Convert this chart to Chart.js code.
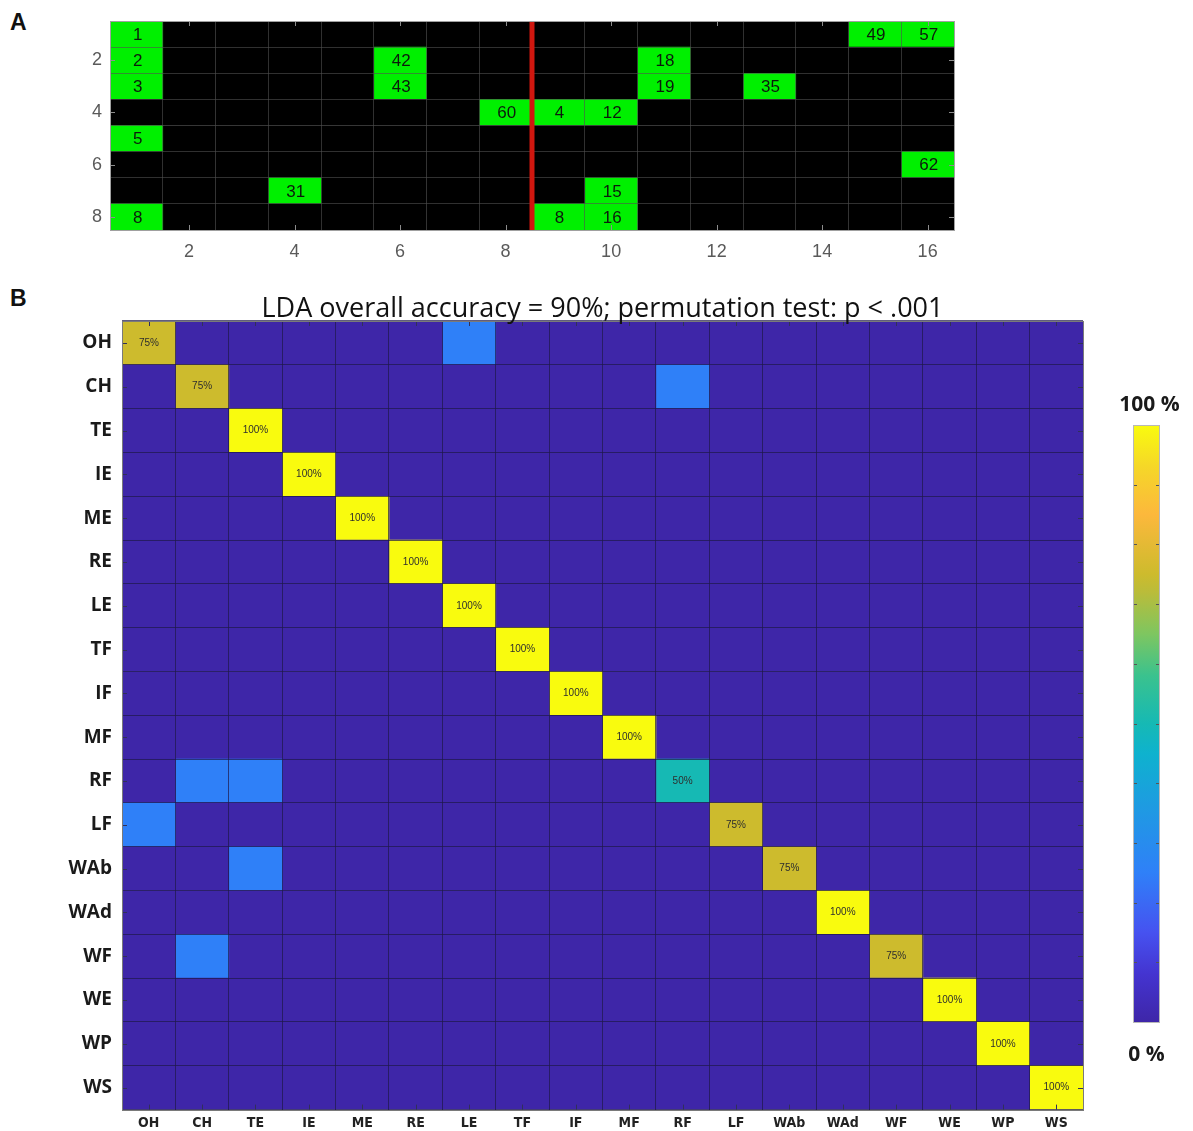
<!DOCTYPE html>
<html>
<head>
<meta charset="utf-8">
<script src="https://cdn.jsdelivr.net/npm/chart.js@4.4.1/dist/chart.umd.min.js"></script>
<style>
  html, body { margin: 0; padding: 0; background: #ffffff; }
  body { width: 1193px; height: 1131px; position: relative; overflow: hidden; }
  .box { position: absolute; }
  .panel { position: absolute; font-family: "Liberation Sans", Arial, sans-serif; font-weight: bold; font-size: 23px; color: #111; line-height: 1; }
</style>
</head>
<body>
<div class="panel" style="left:10px;top:11px">A</div>
<div class="panel" style="left:10px;top:287px">B</div>
<div class="box" style="left:0;top:0;width:1000px;height:280px"><canvas id="chartA"></canvas></div>
<div class="box" style="left:0;top:280px;width:1100px;height:851px"><canvas id="chartB"></canvas></div>
<div class="box" style="left:1090px;top:380px;width:103px;height:700px"><canvas id="chartC"></canvas></div>
<script>
// ---------- Panel A: 8 x 16 grid of selected positions ----------
const gridRows = ['1', '2', '3', '4', '5', '6', '7', '8'];
const gridCols = ['1', '2', '3', '4', '5', '6', '7', '8', '9', '10', '11', '12', '13', '14', '15', '16'];
const hitRow   = [1, 1, 1, 2, 2, 2, 3, 3, 3, 3, 4, 4, 4, 5, 6, 7, 7, 8, 8, 8];
const hitCol   = [1, 15, 16, 1, 6, 11, 1, 6, 11, 13, 8, 9, 10, 1, 16, 4, 10, 1, 9, 10];
const hitLabel = ['1', '49', '57', '2', '42', '18', '3', '43', '19', '35', '60', '4', '12', '5', '62', '31', '15', '8', '8', '16'];
const splitAfterCol = 8;

// ---------- Panel B: LDA confusion matrix (row = true, column = predicted) ----------
const classes  = ['OH', 'CH', 'TE', 'IE', 'ME', 'RE', 'LE', 'TF', 'IF', 'MF', 'RF', 'LF', 'WAb', 'WAd', 'WF', 'WE', 'WP', 'WS'];
const diagPct  = [75, 75, 100, 100, 100, 100, 100, 100, 100, 100, 50, 75, 75, 100, 75, 100, 100, 100];
const missTrue = ['OH', 'CH', 'RF', 'RF', 'LF', 'WAb', 'WF'];
const missPred = ['LE', 'RF', 'CH', 'TE', 'OH', 'TE', 'CH'];
const missPct  = [25, 25, 25, 25, 25, 25, 25];
const permP    = '.001';

// ---------- Colour bar range ----------
const cbarMin = 0;
const cbarMax = 100;

// parula-like colour map
const cmapStops = [
  [0.00, [62, 38, 168]],
  [0.08, [68, 52, 208]],
  [0.15, [70, 82, 240]],
  [0.25, [47, 128, 248]],
  [0.35, [32, 152, 228]],
  [0.45, [14, 178, 206]],
  [0.50, [22, 185, 180]],
  [0.58, [58, 194, 142]],
  [0.65, [126, 198, 96]],
  [0.72, [186, 188, 58]],
  [0.75, [205, 187, 45]],
  [0.85, [252, 184, 60]],
  [0.93, [245, 215, 40]],
  [1.00, [249, 251, 14]]
];
function cmap(t) {
  t = Math.max(0, Math.min(1, t));
  for (let i = 1; i < cmapStops.length; i++) {
    const [t1, c1] = cmapStops[i];
    const [t0, c0] = cmapStops[i - 1];
    if (t <= t1) {
      const f = (t - t0) / (t1 - t0);
      const c = c0.map((v, k) => Math.round(v + (c1[k] - v) * f));
      return `rgb(${c[0]},${c[1]},${c[2]})`;
    }
  }
  const c = cmapStops[cmapStops.length - 1][1];
  return `rgb(${c[0]},${c[1]},${c[2]})`;
}

// ---------- shared plugins ----------
const cellTextPlugin = {
  id: 'cellText',
  afterDraw(chart, args, opts) {
    const ctx = chart.ctx;
    ctx.save();
    ctx.font = opts.font;
    ctx.fillStyle = opts.color;
    ctx.textAlign = 'center';
    ctx.textBaseline = 'middle';
    chart.data.datasets.forEach((ds, di) => {
      if (!ds.cellText) return;
      chart.getDatasetMeta(di).data.forEach((el, i) => {
        const t = ds.cellText[i];
        if (t == null) return;
        const p = el.getProps(['x', 'y', 'base'], true);
        ctx.fillText(t, (p.x + p.base) / 2 + (opts.dx || 0), p.y + (opts.dy || 0));
      });
    });
    ctx.restore();
  }
};

const frameTicksPlugin = {
  id: 'frameTicks',
  afterDraw(chart, args, opts) {
    const { ctx, chartArea: a } = chart;
    const xs = chart.scales[opts.xScale];
    const ys = chart.scales.y;
    const L = opts.length;
    ctx.save();
    // divider line
    if (opts.divider != null) {
      const px = chart.scales.x.getPixelForValue(opts.divider);
      ctx.strokeStyle = opts.dividerColor;
      ctx.lineWidth = opts.dividerWidth;
      ctx.beginPath();
      ctx.moveTo(px, a.top);
      ctx.lineTo(px, a.bottom);
      ctx.stroke();
    }
    ctx.strokeStyle = opts.tickColor;
    ctx.lineWidth = 1;
    ctx.beginPath();
    opts.xTicks.forEach(i => {
      const px = Math.round(xs.getPixelForValue(i)) + 0.5;
      ctx.moveTo(px, a.top); ctx.lineTo(px, a.top + L);
      ctx.moveTo(px, a.bottom); ctx.lineTo(px, a.bottom - L);
    });
    opts.yTicks.forEach(i => {
      const py = Math.round(ys.getPixelForValue(i)) + 0.5;
      ctx.moveTo(a.left, py); ctx.lineTo(a.left + L, py);
      ctx.moveTo(a.right, py); ctx.lineTo(a.right - L, py);
    });
    ctx.stroke();
    ctx.strokeStyle = opts.frameColor;
    ctx.lineWidth = 1;
    ctx.strokeRect(Math.round(a.left) + 0.5, Math.round(a.top) + 0.5,
                   Math.round(a.right - a.left), Math.round(a.bottom - a.top));
    ctx.restore();
  }
};

const titlePlugin = {
  id: 'centerTitle',
  afterDraw(chart, args, opts) {
    const { ctx, chartArea: a } = chart;
    ctx.save();
    ctx.font = opts.font;
    ctx.fillStyle = opts.color;
    ctx.textAlign = 'center';
    ctx.textBaseline = 'middle';
    ctx.fillText(opts.text, (a.left + a.right) / 2, a.top - opts.gap);
    ctx.restore();
  }
};

// ---------- Panel A ----------
const aMatrix = gridRows.map(() => gridCols.map(() => null));
hitRow.forEach((r, i) => { aMatrix[r - 1][hitCol[i] - 1] = hitLabel[i]; });

const aDatasets = gridCols.map((c, ci) => ({
  label: 'column ' + c,
  data: gridRows.map(() => 1),
  backgroundColor: gridRows.map((r, ri) => aMatrix[ri][ci] !== null ? '#00F000' : '#000000'),
  cellText: gridRows.map((r, ri) => aMatrix[ri][ci]),
  borderWidth: 0,
  barPercentage: 1,
  categoryPercentage: 1
}));

const tickFontA = { family: '"Liberation Sans", Arial, sans-serif', size: 18 };
const gridA = 'rgba(80,80,80,0.6)';

new Chart(document.getElementById('chartA'), {
  type: 'bar',
  data: { labels: gridRows, datasets: aDatasets },
  plugins: [cellTextPlugin, frameTicksPlugin],
  options: {
    responsive: true,
    maintainAspectRatio: false,
    animation: false,
    indexAxis: 'y',
    layout: { padding: { top: 21, right: 46, left: 0, bottom: 0 } },
    plugins: {
      legend: { display: false },
      tooltip: { enabled: false },
      cellText: { font: '17px "Liberation Sans", Arial, sans-serif', color: '#0c1a0c', dx: 1, dy: 1 },
      frameTicks: {
        xScale: 'xLab',
        xTicks: gridCols.map((c, i) => i).filter(i => (i + 1) % 2 === 0),
        yTicks: gridRows.map((r, i) => i).filter(i => (i + 1) % 2 === 0),
        length: 5, tickColor: '#8c8c8c', frameColor: '#a0a0a0',
        divider: splitAfterCol, dividerColor: '#D0170F', dividerWidth: 5
      }
    },
    scales: {
      x: {
        type: 'linear', stacked: true, min: 0, max: gridCols.length, position: 'bottom',
        grid: { color: gridA, lineWidth: 1, drawTicks: false, z: 1 },
        border: { display: false },
        ticks: { display: false, stepSize: 1 },
        afterFit: s => { s.height = 0; }
      },
      xLab: {
        type: 'category', labels: gridCols, position: 'bottom', offset: true,
        grid: { display: false, drawTicks: false },
        border: { display: false },
        ticks: {
          autoSkip: false, maxRotation: 0, padding: 11, color: '#5a5a5a', font: tickFontA,
          callback: (v, i) => ((i + 1) % 2 === 0 ? gridCols[i] : '')
        },
        afterFit: s => { s.height = 50; }
      },
      y: {
        type: 'category', stacked: true, offset: true,
        grid: { color: gridA, lineWidth: 1, offset: true, drawTicks: false, z: 1 },
        border: { display: false },
        ticks: {
          autoSkip: false, padding: 8, color: '#5a5a5a', font: tickFontA,
          callback: (v, i) => ((i + 1) % 2 === 0 ? gridRows[i] : '')
        },
        afterFit: s => { s.width = 110; }
      }
    }
  }
});

// ---------- Panel B ----------
const bMatrix = classes.map((_, r) => classes.map((_, c) => (r === c ? diagPct[r] : 0)));
missTrue.forEach((t, i) => {
  bMatrix[classes.indexOf(t)][classes.indexOf(missPred[i])] = missPct[i];
});
const overallAcc = Math.round(diagPct.reduce((s, v) => s + v, 0) / diagPct.length);

const bDatasets = classes.map((c, ci) => ({
  label: c,
  data: classes.map(() => 1),
  backgroundColor: classes.map((r, ri) => cmap((bMatrix[ri][ci] - cbarMin) / (cbarMax - cbarMin))),
  cellText: classes.map((r, ri) => (ri === ci ? bMatrix[ri][ci] + '%' : null)),
  borderWidth: 0,
  barPercentage: 1,
  categoryPercentage: 1
}));

const gridB = 'rgba(30,24,72,0.7)';

new Chart(document.getElementById('chartB'), {
  type: 'bar',
  data: { labels: classes, datasets: bDatasets },
  plugins: [cellTextPlugin, frameTicksPlugin, titlePlugin],
  options: {
    responsive: true,
    maintainAspectRatio: false,
    animation: false,
    indexAxis: 'y',
    layout: { padding: { top: 41, right: 17, left: 0, bottom: 0 } },
    plugins: {
      legend: { display: false },
      tooltip: { enabled: false },
      cellText: { font: '10px "Liberation Sans", Arial, sans-serif', color: '#2e2e2e', dx: 0, dy: 0 },
      frameTicks: {
        xScale: 'xLab',
        xTicks: classes.map((c, i) => i),
        yTicks: classes.map((c, i) => i),
        length: 5, tickColor: '#30305a', frameColor: '#7a7a7a'
      },
      centerTitle: {
        text: `LDA overall accuracy = ${overallAcc}%; permutation test: p < ${permP}`,
        font: '27px "Open Sans", "Noto Sans", sans-serif',
        color: '#111', gap: 12
      }
    },
    scales: {
      x: {
        type: 'linear', stacked: true, min: 0, max: classes.length, position: 'bottom',
        grid: { color: gridB, lineWidth: 1, drawTicks: false, z: 1 },
        border: { display: false },
        ticks: { display: false, stepSize: 1 },
        afterFit: s => { s.height = 0; }
      },
      xLab: {
        type: 'category', labels: classes, position: 'bottom', offset: true,
        grid: { display: false, drawTicks: false },
        border: { display: false },
        ticks: {
          autoSkip: false, maxRotation: 0, padding: 5, color: '#222',
          font: { family: '"DejaVu Sans Condensed", "DejaVu Sans", sans-serif', size: 14, weight: 'bold' }
        },
        afterFit: s => { s.height = 21; }
      },
      y: {
        type: 'category', stacked: true, offset: true,
        grid: { color: gridB, lineWidth: 1, offset: true, drawTicks: false, z: 1 },
        border: { display: false },
        ticks: {
          autoSkip: false, padding: 10, color: '#1a1a1a',
          font: { family: '"Open Sans", "DejaVu Sans", sans-serif', size: 19, weight: 'bold' }
        },
        afterFit: s => { s.width = 122; }
      }
    }
  }
});

// ---------- Colour bar ----------
const cbarEndsPlugin = {
  id: 'cbarEnds',
  afterDraw(chart, args, opts) {
    const { ctx, chartArea: a } = chart;
    const ys = chart.scales.y;
    ctx.save();
    ctx.strokeStyle = opts.tickColor;
    ctx.lineWidth = 1;
    ctx.beginPath();
    for (let v = cbarMin; v <= cbarMax; v += opts.step) {
      const py = Math.round(ys.getPixelForValue(v)) + 0.5;
      ctx.moveTo(a.left, py); ctx.lineTo(a.left + 4, py);
      ctx.moveTo(a.right, py); ctx.lineTo(a.right - 4, py);
    }
    ctx.stroke();
    ctx.strokeStyle = opts.frameColor;
    ctx.strokeRect(Math.round(a.left) + 0.5, Math.round(a.top) + 0.5,
                   Math.round(a.right - a.left) - 1, Math.round(a.bottom - a.top));
    ctx.font = opts.font;
    ctx.fillStyle = '#1a1a1a';
    ctx.textAlign = 'center';
    ctx.textBaseline = 'middle';
    const cx = (a.left + a.right) / 2;
    ctx.fillText(cbarMax + ' %', cx + 3, ys.getPixelForValue(cbarMax) - 20);
    ctx.fillText(cbarMin + ' %', cx, ys.getPixelForValue(cbarMin) + 33);
    ctx.restore();
  }
};

new Chart(document.getElementById('chartC'), {
  type: 'bar',
  data: {
    labels: ['%'],
    datasets: [{
      data: [[cbarMin, cbarMax]],
      backgroundColor: (c) => {
        const area = c.chart.chartArea;
        if (!area) return cmap(0.5);
        const g = c.chart.ctx.createLinearGradient(0, area.bottom, 0, area.top);
        cmapStops.forEach(([t, col]) => g.addColorStop(t, `rgb(${col[0]},${col[1]},${col[2]})`));
        return g;
      },
      borderWidth: 0,
      borderSkipped: false,
      barPercentage: 1,
      categoryPercentage: 1
    }]
  },
  plugins: [cbarEndsPlugin],
  options: {
    responsive: true,
    maintainAspectRatio: false,
    animation: false,
    layout: { padding: { left: 43, right: 33, top: 45, bottom: 58 } },
    plugins: {
      legend: { display: false },
      tooltip: { enabled: false },
      cbarEnds: {
        step: 10, tickColor: '#555', frameColor: '#b8b8b8',
        font: 'bold 21px "Open Sans", "DejaVu Sans", sans-serif'
      }
    },
    scales: {
      x: { display: false },
      y: { display: false, min: cbarMin, max: cbarMax }
    }
  }
});
</script>
</body>
</html>
